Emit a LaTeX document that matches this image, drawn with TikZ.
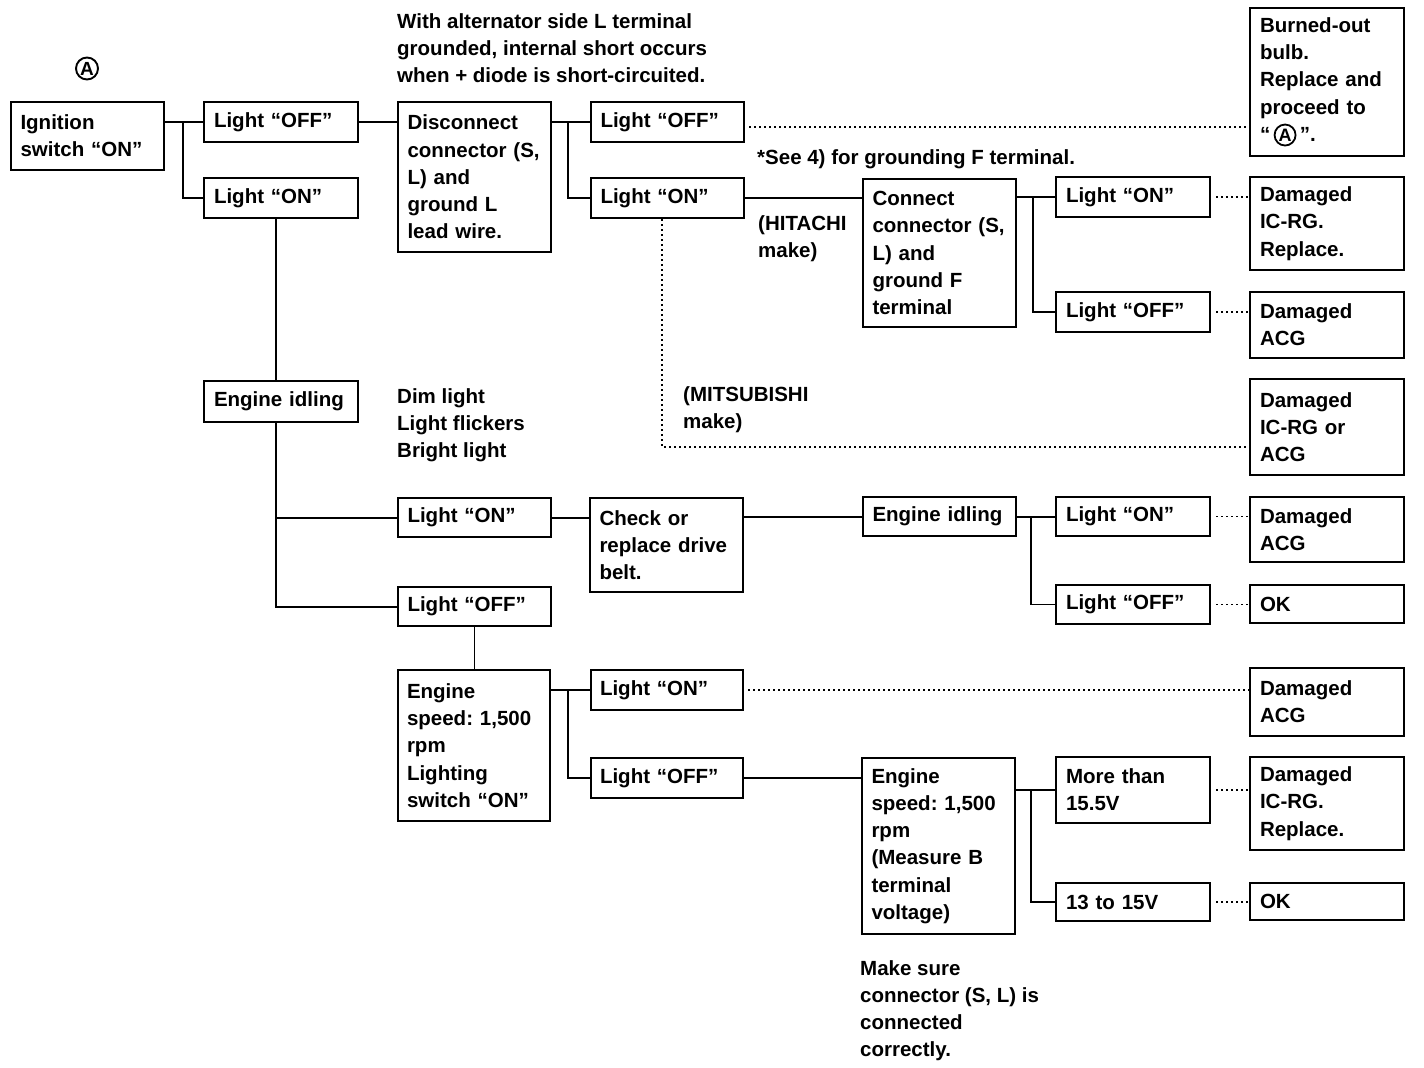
\documentclass[tikz,border=0pt]{standalone}
\usepackage{fontspec}
\setmainfont{Liberation Sans}
\frenchspacing
\newcommand\mfont{\fontsize{20.5}{27.2}\selectfont\bfseries}
\newcommand\circA{\tikz[baseline=(ca.base)]\node[draw,circle,line width=1.8pt,inner sep=0pt,minimum size=21pt,font=\fontsize{18}{18}\selectfont\bfseries,anchor=center](ca){A};}
\begin{document}
\begin{tikzpicture}[x=1pt,y=-1pt,
  box/.style={draw, line width=2pt, anchor=north west, inner xsep=9pt, inner ysep=0pt,
    align=left, font=\mfont, text width=134pt, minimum width=154pt},
  note/.style={anchor=north west, inner sep=0pt, align=left, font=\mfont},
  conn/.style={line width=2pt},
  thin/.style={line width=1.3pt},
  dot/.style={line width=1.7pt, dash pattern=on 1.7pt off 3.3pt}]
\useasboundingbox (0,0) rectangle (1424,1068);

% circled A
\node[draw,circle,line width=1.9pt,inner sep=0pt,minimum size=22pt,font=\fontsize{19}{19}\selectfont\bfseries] (cA) at (87,68.5) {A};

% boxes
\node[box, minimum width=153pt, minimum height=68pt] (ign) at (10,101) {Ignition\\switch “ON”};
\node[box, minimum height=40pt] (lof1) at (203,101) {Light “OFF”};
\node[box, minimum height=40pt] (lon1) at (203,177) {Light “ON”};
\node[box, minimum width=153pt, minimum height=150pt] (disc) at (397,101) {Disconnect\\connector (S,\\L) and\\ground L\\lead wire.};
\node[box, minimum width=153pt, minimum height=40pt] (lof2) at (590,101) {Light “OFF”};
\node[box, minimum width=153pt, minimum height=40pt] (lon2) at (590,177) {Light “ON”};
\node[box, minimum height=148pt] (burn) at (1249,7) {Burned-out\\bulb.\\Replace and\\proceed to\\“\,\circA\,”.};
\node[box, minimum width=153pt, minimum height=148pt] (cnct) at (862,178) {Connect\\connector (S,\\L) and\\ground F\\terminal};
\node[box, minimum height=40pt] (lon3) at (1055,176) {Light “ON”};
\node[box, minimum height=40pt] (lof3) at (1055,291) {Light “OFF”};
\node[box, minimum height=93pt] (dmg1) at (1249,176) {Damaged\\IC-RG.\\Replace.};
\node[box, minimum height=66pt] (acg1) at (1249,291) {Damaged\\ACG};
\node[box, minimum height=96pt] (dmgor) at (1249,378) {Damaged\\IC-RG or\\ACG};
\node[box, minimum height=41pt] (idle1) at (203,380) {Engine idling};
\node[box, minimum width=153pt, minimum height=39pt] (lon4) at (397,497) {Light “ON”};
\node[box, minimum width=153pt, minimum height=39pt] (lof4) at (397,586) {Light “OFF”};
\node[box, minimum width=153pt, minimum height=94pt] (chk) at (589,497) {Check or\\replace drive\\belt.};
\node[box, minimum width=153pt, minimum height=39pt] (idle2) at (862,496) {Engine idling};
\node[box, minimum height=39pt] (lon5) at (1055,496) {Light “ON”};
\node[box, minimum height=39pt] (lof5) at (1055,584) {Light “OFF”};
\node[box, minimum height=65pt] (acg2) at (1249,496) {Damaged\\ACG};
\node[box, minimum height=38pt] (ok1) at (1249,584) {OK};
\node[box, minimum width=152pt, minimum height=151pt] (es1) at (397,669) {Engine\\speed: 1,500\\rpm\\Lighting\\switch “ON”};
\node[box, minimum width=152pt, minimum height=40pt] (lon6) at (590,669) {Light “ON”};
\node[box, minimum width=152pt, minimum height=40pt] (lof6) at (590,757) {Light “OFF”};
\node[box, minimum height=68pt] (acg3) at (1249,667) {Damaged\\ACG};
\node[box, minimum width=153pt, minimum height=176pt] (es2) at (861,757) {Engine\\speed: 1,500\\rpm\\(Measure B\\terminal\\voltage)};
\node[box, minimum height=66pt] (more) at (1055,756) {More than\\15.5V};
\node[box, minimum height=38pt] (v13) at (1055,882) {13 to 15V};
\node[box, minimum height=93pt] (dmg2) at (1249,756) {Damaged\\IC-RG.\\Replace.};
\node[box, minimum height=37pt] (ok2) at (1249,882) {OK};

% notes
\node[note] (n1) at (397,13) {With alternator side L terminal\\grounded, internal short occurs\\when + diode is short-circuited.};
\node[note] (n2) at (757,149) {*See 4) for grounding F terminal.};
\node[note] (n3) at (758,215) {(HITACHI\\make)};
\node[note] (n4) at (683,386) {(MITSUBISHI\\make)};
\node[note] (n5) at (397,388) {Dim light\\Light flickers\\Bright light};
\node[note] (n6) at (860,960) {Make sure\\connector (S, L) is\\connected\\correctly.};

% connectors
\draw[conn] (lof1.west) -- (lof1.west -| ign.east);
\draw[thin] ([xshift=-20pt]lof1.west) |- (lon1.west);
\draw[conn] (lof1.east) -- (lof1.east -| disc.west);
\draw[conn] (lof2.west) -- (lof2.west -| disc.east);
\draw[thin] ([xshift=-22pt]lof2.west) |- (lon2.west);
\coordinate (p1) at ([yshift=-5pt]lof2.east);
\draw[dot, shorten <=4pt] (p1) -- (p1 -| burn.west);
\draw[conn] (lon2.east) -- (lon2.east -| cnct.west);
\coordinate (md) at ([xshift=-5.5pt]lon2.south);
\draw[dot] (md) |- ([yshift=-20pt]dmgor.west);
\draw[conn] (lon3.west) -- (lon3.west -| cnct.east);
\draw[thin] ([xshift=-22pt]lon3.west) |- (lof3.west);
\draw[dot, shorten <=5pt] (lon3.east) -- (lon3.east -| dmg1.west);
\draw[dot, shorten <=5pt] (lof3.east) -- (lof3.east -| acg1.west);

\coordinate (ib) at ([xshift=-5pt]idle1.north);
\draw[thin] (ib) -- (ib |- lon1.south);
\coordinate (ic) at ([xshift=-5pt]idle1.south);
\draw[conn] (ic) |- (lof4.west);
\draw[conn] (lon4.west) -- (lon4.west -| ic);
\draw[conn] (lon4.east) -- (lon4.east -| chk.west);
\draw[conn] (idle2.west) -- (idle2.west -| chk.east);
\draw[conn] (lon5.west) -- (lon5.west -| idle2.east);
\draw[thin] ([xshift=-24pt]lon5.west) |- (lof5.west);
\draw[dot, shorten <=5pt] (lon5.east) -- (lon5.east -| acg2.west);
\draw[dot, shorten <=5pt] (lof5.east) -- (lof5.east -| ok1.west);

\draw[thin] (lof4.south) -- (lof4.south |- es1.north);
\draw[conn] (lon6.west) -- (lon6.west -| es1.east);
\draw[thin] ([xshift=-22pt]lon6.west) |- (lof6.west);
\draw[dot, shorten <=4pt] (lon6.east) -- (lon6.east -| acg3.west);
\draw[conn] (lof6.east) -- (lof6.east -| es2.west);
\draw[conn] (more.west) -- (more.west -| es2.east);
\draw[thin] ([xshift=-24pt]more.west) |- (v13.west);
\draw[dot, shorten <=5pt] (more.east) -- (more.east -| dmg2.west);
\draw[dot, shorten <=5pt] (v13.east) -- (v13.east -| ok2.west);
\end{tikzpicture}
\end{document}
